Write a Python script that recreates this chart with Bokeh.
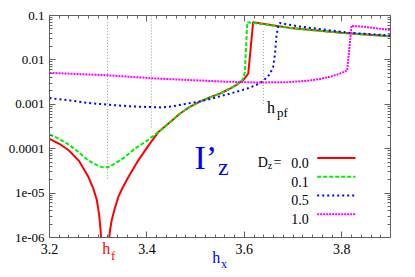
import numpy as np
from bokeh.plotting import figure
from bokeh.models import (Range1d, FixedTicker, LinearAxis, LogAxis, Label,
                          CustomJSTickFormatter)
from bokeh.embed import file_html
from bokeh.resources import INLINE

# ---------------- data ----------------
hx_d00 = [3.200, 3.220, 3.240, 3.260, 3.280, 3.290, 3.297, 3.302, 3.305, 3.307,
          3.321, 3.324, 3.3275, 3.334, 3.341, 3.350, 3.362, 3.382, 3.403, 3.423,
          3.448, 3.468, 3.489, 3.509, 3.530, 3.550, 3.570, 3.584, 3.598, 3.608,
          3.618, 3.700, 3.800, 3.900]
iz_d00 = [1.66e-4, 1.29e-4, 9.1e-5, 5.4e-5, 2.3e-5, 1.26e-5, 7.1e-6, 3.2e-6, 1.4e-6, 6.3e-7,
          6.3e-7, 1.4e-6, 2.4e-6, 4.5e-6, 8.1e-6, 1.32e-5, 2.3e-5, 5.4e-5, 1.17e-4, 2.34e-4,
          4.0e-4, 6.2e-4, 8.9e-4, 1.15e-3, 1.45e-3, 1.74e-3, 2.24e-3, 2.75e-3, 3.55e-3, 4.9e-3,
          0.0708, 0.0513, 0.0407, 0.0339]

hx_d01 = [3.200, 3.220, 3.240, 3.260, 3.280, 3.300, 3.310, 3.320, 3.334, 3.355,
          3.375, 3.396, 3.423, 3.448, 3.468, 3.489, 3.509, 3.530, 3.550, 3.570,
          3.584, 3.596, 3.601, 3.606, 3.700, 3.800, 3.900]
iz_d01 = [2.1e-4, 1.66e-4, 1.23e-4, 8.3e-5, 5.4e-5, 4.1e-5, 3.8e-5, 3.8e-5, 4.6e-5, 6.5e-5,
          1.0e-4, 1.41e-4, 2.34e-4, 4.0e-4, 6.2e-4, 8.9e-4, 1.15e-3, 1.45e-3, 1.74e-3, 2.24e-3,
          2.75e-3, 3.5e-3, 5.2e-3, 0.0708, 0.0513, 0.0407, 0.0339]

hx_d05 = [3.20, 3.24, 3.28, 3.32, 3.36, 3.40, 3.43, 3.45, 3.47, 3.49,
          3.51, 3.53, 3.55, 3.57, 3.59, 3.61, 3.63, 3.64, 3.652, 3.659,
          3.663, 3.666, 3.670, 3.673, 3.714, 3.816, 3.900]
iz_d05 = [1.38e-3, 1.23e-3, 1.07e-3, 9.8e-4, 9.1e-4, 8.7e-4, 8.5e-4, 8.9e-4, 9.8e-4, 1.07e-3,
          1.17e-3, 1.32e-3, 1.51e-3, 1.74e-3, 2.0e-3, 2.34e-3, 2.9e-3, 3.5e-3, 4.7e-3, 6.9e-3,
          0.0141, 0.035, 0.0646, 0.0676, 0.0562, 0.0407, 0.0355]

hx_d10 = [3.20, 3.26, 3.32, 3.42, 3.50, 3.56, 3.63, 3.69, 3.73, 3.755,
          3.78, 3.796, 3.811, 3.815, 3.820, 3.850, 3.900]
iz_d10 = [5.1e-3, 4.8e-3, 4.5e-3, 3.8e-3, 3.47e-3, 3.24e-3, 3.1e-3, 3.16e-3, 3.4e-3, 3.7e-3,
          4.3e-3, 4.9e-3, 5.8e-3, 0.0158, 0.0589, 0.055, 0.047]

# vertical dotted markers (h_f, 3.41, h_pf)
mark_hx = [3.319, 3.409, 3.639]
mark_top = [0.1, 0.1, 0.0457]
mark_bot = [2.1e-5, 3.0e-4, 1.02e-3]

x_ticks = [3.2, 3.4, 3.6, 3.8]
y_ticks = [1e-6, 1e-5, 1e-4, 1e-3, 1e-2, 1e-1]
y_tick_labels = ["1e-06", "1e-05", "0.0001", "0.001", "0.01", "0.1"]

legend_labels = ["0.0", "0.1", "0.5", "1.0"]

# ---------------- styling ----------------
SERIF = "Liberation Serif"
AX = "#606060"
colors = ["#ff0000", "#00ee00", "#0000ff", "#ff00ff"]
dashes = ["solid", "4 2", "2 3", "2 1"]

X0, X1 = 3.2, 3.9
LY0, LY1 = -6.0, -1.0
# pixel frame used to place annotations
FL, FR, FT, FB = 49.0, 390.0, 15.0, 237.0
W, H = 415, 277


def px2x(px):
    return X0 + (px - FL) * (X1 - X0) / (FR - FL)


def py2y(py):
    return 10 ** (LY1 - (py - FT) * (LY1 - LY0) / (FB - FT))


p = figure(width=W, height=H, x_range=Range1d(X0, X1),
           y_range=Range1d(10 ** LY0, 10 ** LY1), y_axis_type="log",
           output_backend="svg", toolbar_location=None,
           min_border_left=int(FL), min_border_right=int(W - FR),
           min_border_top=int(FT), min_border_bottom=int(H - FB))
p.outline_line_color = None
p.xgrid.visible = False
p.ygrid.visible = False
p.background_fill_color = "white"
p.border_fill_color = "white"

xticker = FixedTicker(ticks=x_ticks,
                      minor_ticks=[float(v) for v in np.round(np.arange(3.2, 3.9001, 0.02), 2)])
yminor = [m * 10.0 ** e for e in range(-6, -1) for m in range(2, 10)]
yticker = FixedTicker(ticks=y_ticks, minor_ticks=yminor)
yfmt = CustomJSTickFormatter(args=dict(yt=y_ticks, yl=y_tick_labels), code="""
for (let i = 0; i < yt.length; i++) {
  if (Math.abs(Math.log10(tick) - Math.log10(yt[i])) < 1e-6) return yl[i];
}
return '';
""")
blank = CustomJSTickFormatter(code="return '';")


def style(ax):
    ax.axis_line_color = AX
    ax.major_tick_line_color = AX
    ax.minor_tick_line_color = AX
    ax.major_tick_in = 6
    ax.major_tick_out = 0
    ax.minor_tick_in = 3
    ax.minor_tick_out = 0
    ax.major_label_text_font = SERIF
    ax.major_label_text_color = "black"


xa = p.xaxis[0]
xa.ticker = xticker
style(xa)
xa.major_label_text_font_size = "14px"
xa.major_label_standoff = 6

ya = p.yaxis[0]
ya.ticker = yticker
ya.formatter = yfmt
style(ya)
ya.major_label_text_font_size = "13px"
ya.major_label_standoff = 5

top = LinearAxis(ticker=xticker, formatter=blank, major_label_text_font_size="0px",
                 major_label_standoff=0)
style(top)
p.add_layout(top, "above")
right = LogAxis(ticker=yticker, formatter=blank, major_label_text_font_size="0px",
                major_label_standoff=0)
style(right)
p.add_layout(right, "right")

# marker lines
p.segment(x0=mark_hx, y0=mark_bot, x1=mark_hx, y1=mark_top,
          line_color="#909090", line_width=1, line_dash="1 2")

series = [(hx_d00, iz_d00), (hx_d01, iz_d01), (hx_d05, iz_d05), (hx_d10, iz_d10)]
for (xs, ys), c, d in zip(series, colors, dashes):
    p.line(xs, ys, line_color=c, line_width=2, line_dash=d)

# legend (label on the left, sample on the right)
row_py = [157.5, 176.3, 195.0, 213.7]
for lab, c, d, ry in zip(legend_labels, colors, dashes, row_py):
    yy = py2y(ry)
    p.line([px2x(316.7), px2x(355.0)], [yy, yy], line_color=c, line_width=2, line_dash=d)
    p.add_layout(Label(x=px2x(308.3), y=py2y(ry + 4.7), text=lab, text_font=SERIF,
                       text_font_size="14px", text_color="black", text_align="right",
                       text_baseline="alphabetic"))


def txt(t, px, py, size, color, align="left", place="center"):
    lab = Label(x=px2x(px), y=py2y(py), text=t, text_font=SERIF,
                text_font_size=f"{size}px", text_color=color, text_align=align,
                text_baseline="alphabetic")
    if place == "center":
        p.add_layout(lab)
    else:
        p.add_layout(lab, place)


# "D_z =" of the legend header
txt("=", 277.0, row_py[0] + 4.7, 14, "black", "center")
txt("D", 267.3, row_py[0] + 4.7, 14, "black", "right")
txt("z", 267.3, row_py[0] + 7.5, 10, "black", "left")

# big I'_z
txt("I\u2019", 194.0, 156.5, 34, "#0000ff")
txt("z", 217.5, 166.0, 24, "#0000ff")

# h_pf
txt("h", 266.5, 106.5, 16, "black")
txt("pf", 276.5, 112.0, 13, "black")

# h_f and h_x lie outside the frame: side-panel labels are not clipped.
# They are spread over the spare room of the right and top panels.
txt("h", 101.7, 248.0, 16, "#ff0000", place="right")
txt("f", 110.5, 255.0, 13, "#ff0000", place="right")
txt("h", 211.7, 256.5, 16, "#0000ff", place="right")
txt("x", 220.5, 263.5, 12, "#0000ff", place="above")

open("out.html", "w").write(file_html(p, INLINE))
